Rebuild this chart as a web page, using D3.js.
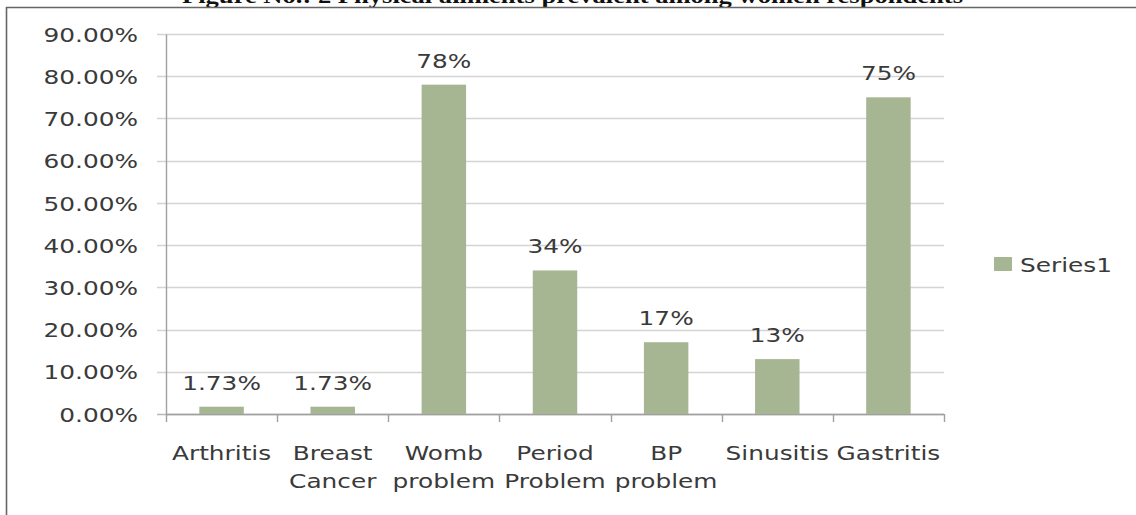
<!DOCTYPE html>
<html>
<head>
<meta charset="utf-8">
<script src="https://cdn.jsdelivr.net/npm/d3@7"></script>
<style>
  html, body { margin: 0; padding: 0; background: #fff; }
  svg { display: block; }
  .lbl { font-family: "DejaVu Sans", sans-serif; font-size: 20px; fill: #3a3a3a; }
</style>
</head>
<body>
<svg id="chart" width="1136" height="515"></svg>
<script>
// Physical ailments reported by women respondents
const categories = [
  ["Arthritis"],
  ["Breast", "Cancer"],
  ["Womb", "problem"],
  ["Period", "Problem"],
  ["BP", "problem"],
  ["Sinusitis"],
  ["Gastritis"]
];
const values = [0.0173, 0.0173, 0.78, 0.34, 0.17, 0.13, 0.75];
const valueLabels = ["1.73%", "1.73%", "78%", "34%", "17%", "13%", "75%"];
const yTicks = [0, 0.1, 0.2, 0.3, 0.4, 0.5, 0.6, 0.7, 0.8, 0.9];
const seriesName = "Series1";
const titleText = "Figure No.: 2 Physical ailments prevalent among women respondents";

const svg = d3.select("#chart");
const barColor = "#a6b592";
const SX = 1.24; // horizontal stretch applied to chart text

const plotLeft = 166, plotRight = 944, plotTop = 34, plotBottom = 414;

const keys = categories.map(c => c.join(" "));
const x = d3.scaleBand().domain(keys).range([plotLeft, plotRight])
  .paddingInner(0.6).paddingOuter(0.3);
const y = d3.scaleLinear().domain([0, 0.9]).range([plotBottom, plotTop]);

function label(parent, tx, ty, str, anchor) {
  return parent.append("text")
    .attr("class", "lbl")
    .attr("text-anchor", anchor || "start")
    .attr("transform", `translate(${tx},${ty}) scale(${SX},1)`)
    .text(str);
}

// Title (partly clipped at the page top)
svg.append("text")
  .attr("x", 182).attr("y", 3)
  .attr("textLength", 781).attr("lengthAdjust", "spacingAndGlyphs")
  .style("font-family", "'Liberation Serif', 'Times New Roman', serif")
  .style("font-weight", "bold").style("font-size", "21px")
  .style("fill", "#111")
  .text(titleText);

// Chart frame
svg.append("line").attr("x1", 6).attr("x2", 1136).attr("y1", 7.5).attr("y2", 7.5)
  .attr("stroke", "#666").attr("stroke-width", 1.6);
svg.append("line").attr("x1", 6.5).attr("x2", 6.5).attr("y1", 7).attr("y2", 515)
  .attr("stroke", "#666").attr("stroke-width", 1.6);

// Gridlines
svg.append("g").selectAll("line").data(yTicks).join("line")
  .attr("x1", plotLeft - 9).attr("x2", plotRight)
  .attr("y1", d => Math.round(y(d)) + 0.5).attr("y2", d => Math.round(y(d)) + 0.5)
  .attr("stroke", d => d === 0 ? "#b8b8b8" : "#d4d4d4")
  .attr("stroke-width", 1.6);

// Y axis
const yFmt = d3.format(".2%");
const yAxis = svg.append("g").attr("transform", `translate(${plotLeft},0)`)
  .call(d3.axisLeft(y).tickValues(yTicks).tickFormat(yFmt).tickSize(0).tickPadding(29));
yAxis.select(".domain").attr("stroke", "#a0a0a0").attr("stroke-width", 1.4);
yAxis.selectAll("text")
  .attr("class", "lbl")
  .attr("x", 0).attr("dy", "0.36em")
  .attr("transform", `translate(-28,0) scale(${SX},1)`);

// X axis with tick marks at category boundaries
const xAxisG = svg.append("g");
xAxisG.append("line").attr("x1", plotLeft).attr("x2", plotRight)
  .attr("y1", plotBottom + 0.5).attr("y2", plotBottom + 0.5)
  .attr("stroke", "#a0a0a0").attr("stroke-width", 1.4);
const boundaries = keys.map(k => x(k) - (x.step() - x.bandwidth()) / 2).concat([plotRight]);
xAxisG.selectAll("line.tk").data(boundaries).join("line").attr("class", "tk")
  .attr("x1", d => Math.round(d) + 0.5).attr("x2", d => Math.round(d) + 0.5)
  .attr("y1", plotBottom).attr("y2", plotBottom + 8)
  .attr("stroke", "#a0a0a0").attr("stroke-width", 1.4);

// Category labels
categories.forEach((lines, i) => {
  const cx = x(keys[i]) + x.bandwidth() / 2;
  lines.forEach((s, j) => label(xAxisG, cx, 460 + j * 28, s, "middle"));
});

// Bars
svg.append("g").selectAll("rect").data(values).join("rect")
  .attr("x", (d, i) => x(keys[i]))
  .attr("width", x.bandwidth())
  .attr("y", d => y(d))
  .attr("height", d => y(0) - y(d))
  .attr("fill", barColor);

// Value labels
const valG = svg.append("g");
values.forEach((v, i) => {
  label(valG, x(keys[i]) + x.bandwidth() / 2, y(v) - 17, valueLabels[i], "middle");
});

// Legend
const leg = svg.append("g").attr("transform", "translate(994,257)");
leg.append("rect").attr("width", 18).attr("height", 14).attr("fill", barColor);
label(leg, 26, 14.5, seriesName, "start");
</script>
</body>
</html>
